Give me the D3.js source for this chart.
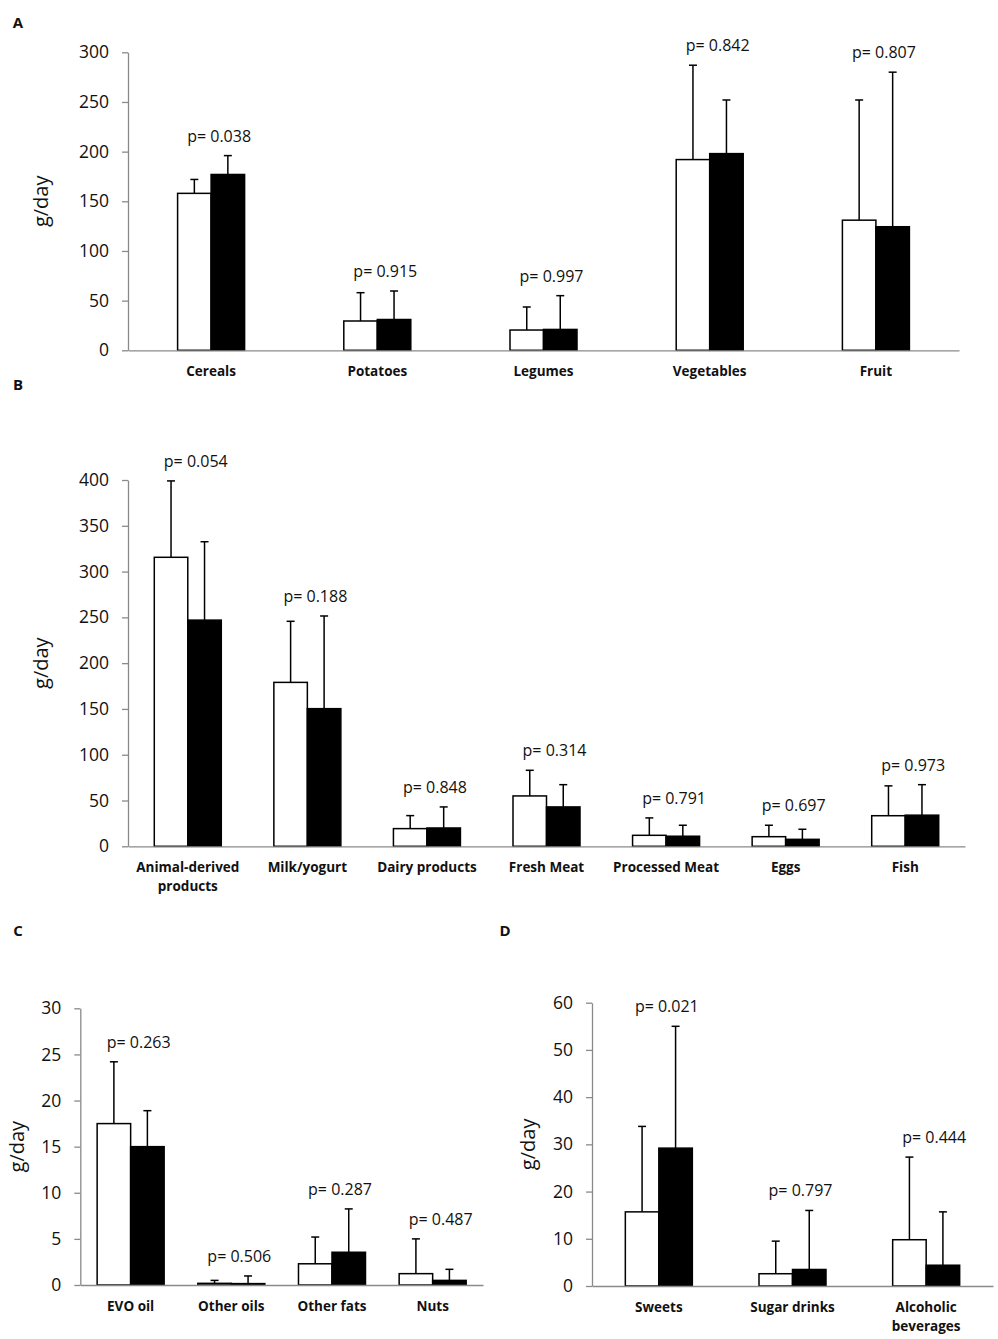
<!DOCTYPE html>
<html>
<head>
<meta charset="utf-8">
<script src="https://cdn.jsdelivr.net/npm/d3@7"></script>
<style>
  body { margin: 0; background: #fff; }
  text { font-family: "Open Sans", "Noto Sans", sans-serif; }
</style>
</head>
<body>
<div id="chart"></div>
<script>
// Panel A - plant foods
const catsA = ["Cereals", "Potatoes", "Legumes", "Vegetables", "Fruit"];
const whiteA = [158, 29.5, 20.4, 192, 131];
const whiteSdA = [14, 28.5, 23.2, 95, 121];
const blackA = [177, 31, 21, 198, 124.4];
const blackSdA = [19, 28.7, 34, 54, 155.6];
const pA = ["0.038", "0.915", "0.997", "0.842", "0.807"];
const ticksA = [0, 50, 100, 150, 200, 250, 300];

// Panel B - animal foods
const catsB = ["Animal-derived\nproducts", "Milk/yogurt", "Dairy products", "Fresh Meat", "Processed Meat", "Eggs", "Fish"];
const whiteB = [315.6, 179, 19.3, 55, 12, 10.5, 33.4];
const whiteSdB = [83.4, 66.7, 14.2, 28, 19, 12.5, 32.6];
const blackB = [247, 150.3, 20, 43, 11, 7.6, 34];
const blackSdB = [85.6, 101.2, 23, 24.3, 12, 11, 33.3];
const pB = ["0.054", "0.188", "0.848", "0.314", "0.791", "0.697", "0.973"];
const ticksB = [0, 50, 100, 150, 200, 250, 300, 350, 400];

// Panel C - fats and nuts
const catsC = ["EVO oil", "Other oils", "Other fats", "Nuts"];
const whiteC = [17.5, 0.18, 2.3, 1.23];
const whiteSdC = [6.7, 0.32, 2.9, 3.77];
const blackC = [15, 0.15, 3.55, 0.5];
const blackSdC = [3.9, 0.83, 4.7, 1.2];
const pC = ["0.263", "0.506", "0.287", "0.487"];
const ticksC = [0, 5, 10, 15, 20, 25, 30];

// Panel D - sweets and drinks
const catsD = ["Sweets", "Sugar drinks", "Alcoholic\nbeverages"];
const whiteD = [15.7, 2.6, 9.8];
const whiteSdD = [18.1, 6.9, 17.5];
const blackD = [29.2, 3.5, 4.4];
const blackSdD = [25.8, 12.5, 11.3];
const pD = ["0.021", "0.797", "0.444"];
const ticksD = [0, 10, 20, 30, 40, 50, 60];

const W = 998, H = 1339;
const axisColor = "#8a8a8a";
const textColor = "#111";
const barW = 33.5;

const svg = d3.select("#chart").append("svg")
    .attr("width", W)
    .attr("height", H);

svg.append("rect").attr("width", W).attr("height", H).attr("fill", "#fff");

// layout of each panel (pixel frame)
const panels = [
    {letter: "A", lx: 18, ly: 22, x0: 128, x1: 959, yTop: 52.3, yBot: 350.3, titleX: 40,
     cats: catsA, white: whiteA, whiteSd: whiteSdA, black: blackA, blackSd: blackSdA, p: pA, ticks: ticksA},
    {letter: "B", lx: 18, ly: 384, x0: 128, x1: 965, yTop: 480, yBot: 846.3, titleX: 40,
     cats: catsB, white: whiteB, whiteSd: whiteSdB, black: blackB, blackSd: blackSdB, p: pB, ticks: ticksB},
    {letter: "C", lx: 18, ly: 930, x0: 80.3, x1: 483, yTop: 1008.3, yBot: 1285, titleX: 16,
     cats: catsC, white: whiteC, whiteSd: whiteSdC, black: blackC, blackSd: blackSdC, p: pC, ticks: ticksC},
    {letter: "D", lx: 505, ly: 930, x0: 592, x1: 993, yTop: 1002.7, yBot: 1286, titleX: 527,
     cats: catsD, white: whiteD, whiteSd: whiteSdD, black: blackD, blackSd: blackSdD, p: pD, ticks: ticksD}
];

panels.forEach(pn => drawPanel(pn));

function drawPanel(pn) {
    let g = svg.append("g");

    let x = d3.scaleBand()
        .domain(pn.cats)
        .range([pn.x0, pn.x1])
        .padding(0);

    let y = d3.scaleLinear()
        .domain([0, d3.max(pn.ticks)])
        .range([pn.yBot, pn.yTop]);

    // panel letter
    g.append("text")
        .attr("x", pn.lx)
        .attr("y", pn.ly)
        .attr("text-anchor", "middle")
        .attr("dominant-baseline", "central")
        .attr("font-size", 15)
        .attr("font-weight", "bold")
        .attr("fill", textColor)
        .text(pn.letter);

    // y axis
    let yAxis = g.append("g")
        .attr("transform", "translate(" + pn.x0 + ",0)")
        .call(d3.axisLeft(y).tickValues(pn.ticks).tickSize(6).tickSizeOuter(0).tickPadding(13));
    yAxis.select(".domain").attr("stroke", axisColor).attr("stroke-width", 1.3);
    yAxis.selectAll(".tick line").attr("stroke", axisColor).attr("stroke-width", 1.3);
    yAxis.selectAll(".tick text")
        .attr("font-size", 17.5)
        .attr("font-family", "'Open Sans', sans-serif")
        .attr("fill", textColor);

    // y title
    g.append("text")
        .attr("transform", "translate(" + pn.titleX + "," + ((pn.yTop + pn.yBot) / 2) + ") rotate(-90)")
        .attr("text-anchor", "middle")
        .attr("dominant-baseline", "central")
        .attr("font-size", 20)
        .attr("fill", textColor)
        .text("g/day");

    // bars
    let groups = g.selectAll(".grp")
        .data(pn.cats.map((c, i) => ({
            cat: c, w: pn.white[i], wsd: pn.whiteSd[i], b: pn.black[i], bsd: pn.blackSd[i], p: pn.p[i]
        })))
        .enter().append("g")
        .attr("class", "grp");

    let cx = d => x(d.cat) + x.bandwidth() / 2;

    // error bars (upward only)
    [["w", "wsd", -barW / 2], ["b", "bsd", barW / 2]].forEach(([k, s, off]) => {
        groups.append("line")
            .attr("x1", d => cx(d) + off)
            .attr("x2", d => cx(d) + off)
            .attr("y1", d => y(d[k]))
            .attr("y2", d => y(d[k] + d[s]))
            .attr("stroke", "#000")
            .attr("stroke-width", 1.5);
        groups.append("line")
            .attr("x1", d => cx(d) + off - 4)
            .attr("x2", d => cx(d) + off + 4)
            .attr("y1", d => y(d[k] + d[s]))
            .attr("y2", d => y(d[k] + d[s]))
            .attr("stroke", "#000")
            .attr("stroke-width", 1.5);
    });

    groups.append("rect")
        .attr("x", d => cx(d) - barW)
        .attr("y", d => y(d.w))
        .attr("width", barW)
        .attr("height", d => y(0) - y(d.w))
        .attr("fill", "#fff")
        .attr("stroke", "#000")
        .attr("stroke-width", 1.5);

    groups.append("rect")
        .attr("x", d => cx(d))
        .attr("y", d => y(d.b))
        .attr("width", barW)
        .attr("height", d => y(0) - y(d.b))
        .attr("fill", "#000")
        .attr("stroke", "#000")
        .attr("stroke-width", 1.5);

    // p-values above the taller error bar
    groups.append("text")
        .attr("x", d => cx(d) + 8)
        .attr("y", d => y(Math.max(d.w + d.wsd, d.b + d.bsd)) - 20)
        .attr("text-anchor", "middle")
        .attr("dominant-baseline", "central")
        .attr("font-size", 16)
        .attr("fill", textColor)
        .text(d => "p= " + d.p);

    // x axis
    let xAxis = g.append("g")
        .attr("transform", "translate(0," + pn.yBot + ")")
        .call(d3.axisBottom(x).tickSize(0).tickSizeOuter(0).tickPadding(0));
    xAxis.select(".domain").attr("stroke", axisColor).attr("stroke-width", 1.3);
    xAxis.selectAll(".tick text").each(function(d) {
        let t = d3.select(this);
        let lines = d.split("\n");
        t.text(null)
            .attr("y", 0)
            .attr("dy", null)
            .attr("font-size", 13.5)
            .attr("font-weight", "bold")
            .attr("font-family", "'Open Sans', sans-serif")
            .attr("fill", textColor);
        lines.forEach((ln, i) => {
            t.append("tspan")
                .attr("x", 0)
                .attr("y", 26 + i * 19)
                .text(ln);
        });
    });
}
</script>
</body>
</html>
